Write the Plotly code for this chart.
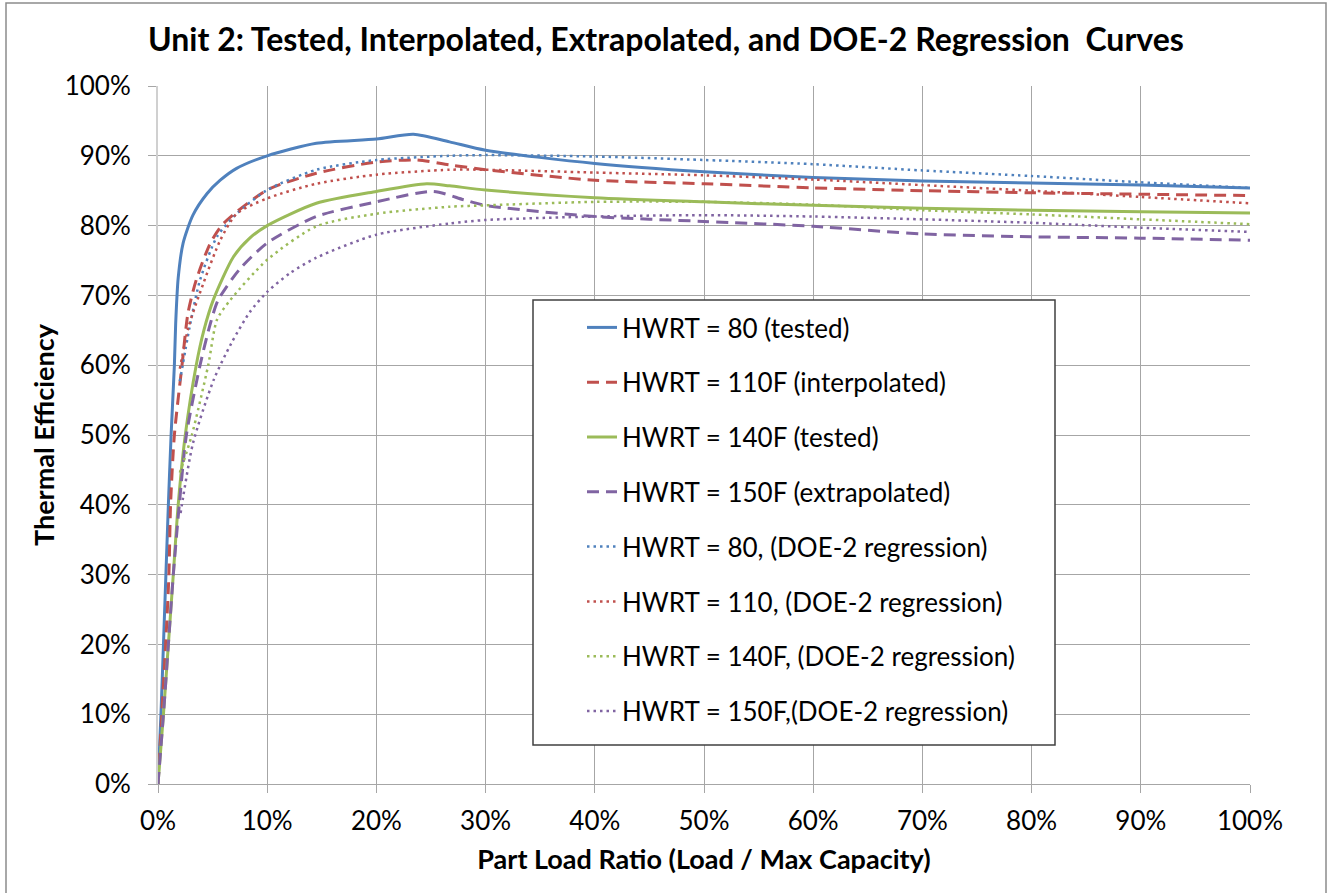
import plotly.graph_objects as go

# ---- data (Part Load Ratio %, Thermal Efficiency %) ----
plr_80_tested = [0, 0.27, 0.5, 0.95, 1.2, 1.5, 1.62, 1.85, 2.3, 3.2, 4.5, 5.7, 7.2, 10, 14.5, 20, 23.4, 26.7, 30, 40, 50, 60, 70, 80, 90, 100]
eff_80_tested = [0, 10, 20, 40, 50, 60, 66.0, 72.5, 77.5, 81.5, 84.6, 86.5, 88.2, 90, 91.8, 92.4, 93.1, 92, 90.8, 88.9, 87.7, 86.9, 86.4, 86.1, 85.8, 85.4]

plr_110_interp = [0, 0.35, 0.7, 1.0, 1.15, 1.5, 2.2, 2.75, 3.5, 4.8, 6.0, 10, 14.5, 20, 23.7, 26.7, 30, 40, 50, 60, 70, 80, 90, 100]
eff_110_interp = [0, 10, 20, 30, 40, 50, 60, 67.5, 72.2, 77.5, 80.3, 85.1, 87.5, 89.1, 89.4, 88.7, 88, 86.5, 86, 85.4, 85, 84.7, 84.5, 84.3]

plr_140_tested = [0, 0.5, 0.95, 1.4, 1.85, 2.5, 3.5, 4.2, 5.1, 6.9, 8.4, 10, 14.5, 20, 24.6, 26.7, 30, 40, 50, 60, 70, 80, 90, 100]
eff_140_tested = [0, 10, 20, 30, 40, 50, 60, 65.0, 69.5, 75.5, 78.2, 80.0, 83.2, 84.9, 86, 85.7, 85.1, 84, 83.4, 82.9, 82.5, 82.2, 82, 81.8]

plr_150_extrap = [0, 0.5, 0.95, 1.4, 1.95, 2.6, 3.85, 4.8, 5.5, 7.5, 10, 14.5, 20, 25.2, 28, 30, 40, 50, 60, 70, 80, 90, 100]
eff_150_extrap = [0, 10, 20, 30, 40, 50, 60, 66.0, 69.3, 73.8, 77.5, 81.3, 83.4, 84.9, 83.7, 82.9, 81.3, 80.6, 79.9, 78.8, 78.4, 78.2, 77.9]

plr_80_doe2 = [2.0, 2.9, 3.85, 5.4, 7.2, 10, 14.5, 20, 26.7, 30, 40, 50, 60, 70, 80, 90, 100]
eff_80_doe2 = [57.7, 65.5, 72.2, 78.4, 81.7, 85.1, 88, 89.4, 90, 90.1, 89.9, 89.4, 88.8, 87.9, 87.1, 86.2, 85.4]

plr_110_doe2 = [2.0, 2.8, 4.15, 5.7, 7.2, 10, 14.5, 20, 26.7, 30, 40, 50, 60, 70, 80, 90, 100]
eff_110_doe2 = [59.5, 65.5, 71.7, 77.9, 81.7, 83.9, 86, 87.3, 88, 88, 87.6, 87.2, 86.6, 85.8, 85, 84.1, 83.2]

plr_140_doe2 = [2.0, 3.1, 4.6, 5.4, 6.6, 10, 14.5, 20, 26.7, 30, 40, 50, 60, 70, 80, 90, 100]
eff_140_doe2 = [44.6, 50, 60, 66.5, 69.3, 75.1, 79.9, 81.7, 82.7, 82.9, 83.4, 83.4, 83.0, 82.2, 81.6, 80.9, 80.2]

plr_150_doe2 = [2.07, 2.3, 3.2, 5.1, 6.7, 8.4, 10, 12.1, 14.5, 20, 26.7, 30, 40, 50, 60, 70, 80, 90, 100]
eff_150_doe2 = [38.8, 41.1, 48.8, 57.9, 63.1, 67.6, 70.5, 73.2, 75.4, 78.7, 80.3, 80.8, 81.3, 81.5, 81.3, 80.9, 80.4, 79.7, 79.1]

series_names = [
    "HWRT = 80 (tested)",
    "HWRT = 110F (interpolated)",
    "HWRT = 140F (tested)",
    "HWRT = 150F (extrapolated)",
    "HWRT = 80, (DOE-2 regression)",
    "HWRT = 110, (DOE-2 regression)",
    "HWRT = 140F, (DOE-2 regression)",
    "HWRT = 150F,(DOE-2 regression)",
]
x_ticks = list(range(0, 101, 10))
y_ticks = list(range(0, 101, 10))

# ---- styling ----
BLUE, RED, GREEN, PURPLE = "#4F81BD", "#C0504D", "#9BBB59", "#8064A2"
FONT = "Lato, 'Open Sans', sans-serif"
GRID = "#a6a6a6"

xs = [plr_80_tested, plr_110_interp, plr_140_tested, plr_150_extrap,
      plr_80_doe2, plr_110_doe2, plr_140_doe2, plr_150_doe2]
ys = [eff_80_tested, eff_110_interp, eff_140_tested, eff_150_extrap,
      eff_80_doe2, eff_110_doe2, eff_140_doe2, eff_150_doe2]
colors = [BLUE, RED, GREEN, PURPLE, BLUE, RED, GREEN, PURPLE]
dashes = ["solid", "12px,7px", "solid", "12px,7px",
          "2.5px,4px", "2.5px,4px", "2.5px,4px", "2.5px,4px"]
widths = [3, 3, 3, 3, 2.5, 2.5, 2.5, 2.5]

fig = go.Figure()
for i in range(8):
    fig.add_trace(go.Scatter(
        x=xs[i], y=ys[i], mode="lines", name=series_names[i],
        legendgroup=f"g{i}",
        line=dict(color=colors[i], width=widths[i], dash=dashes[i],
                  shape="spline", smoothing=0.7),
    ))

# plot area pixel geometry
L, R, T, B = 158, 1250, 86, 784
W, H = R - L, B - T
def px(xp):
    return (xp - L) / W
def py(yp):
    return (B - yp) / H

shapes = [
    # outer chart border
    dict(type="rect", xref="paper", yref="paper",
         x0=px(6), x1=px(1326), y0=py(3), y1=py(896),
         line=dict(color="#8c8c8c", width=1.5), fillcolor="rgba(0,0,0,0)",
         layer="below"),
    # legend box
    dict(type="rect", xref="paper", yref="paper",
         x0=px(533), x1=px(1055), y0=py(745), y1=py(300),
         line=dict(color="#404040", width=1.5), fillcolor="white",
         layer="above"),
]

fig.update_layout(
    width=1332, height=893,
    margin=dict(l=L, r=1332 - R, t=T, b=893 - B, pad=0),
    paper_bgcolor="white", plot_bgcolor="white",
    font=dict(family=FONT, size=26, color="#000000"),
    title=dict(text="<b>Unit 2: Tested, Interpolated, Extrapolated, and DOE-2 Regression  Curves</b>",
               x=0.5, xref="container", xanchor="center",
               y=1 - 40 / 893, yref="container", yanchor="middle",
               font=dict(family=FONT, size=32, color="#000000")),
    shapes=shapes,
    showlegend=True,
    legend=dict(x=px(582), y=py(304), xanchor="left", yanchor="top",
                bgcolor="rgba(0,0,0,0)", borderwidth=0,
                font=dict(family=FONT, size=26, color="#000000"),
                tracegroupgap=18, traceorder="grouped"),
)
fig.update_xaxes(
    range=[0, 100], tickvals=x_ticks, ticktext=[f"{v}%" for v in x_ticks],
    showgrid=True, gridcolor=GRID, gridwidth=1, zeroline=False,
    showline=True, linecolor=GRID, linewidth=1,
    ticks="outside", ticklen=8, tickcolor=GRID, ticklabelstandoff=6,
    tickfont=dict(size=26),
    title=dict(text="<b>Part Load Ratio (Load / Max Capacity)</b>",
               font=dict(family=FONT, size=27), standoff=14),
)
fig.update_yaxes(
    range=[0, 100], tickvals=y_ticks, ticktext=[f"{v}%" for v in y_ticks],
    showgrid=True, gridcolor=GRID, gridwidth=1, zeroline=False,
    showline=True, linecolor="#d0d0d0", linewidth=2,
    ticks="outside", ticklen=8, tickcolor=GRID, ticklabelstandoff=12,
    tickfont=dict(size=26),
    title=dict(text="<b>Thermal Efficiency</b>",
               font=dict(family=FONT, size=27), standoff=2),
)

fig.write_html("out.html", config={"displayModeBar": False},
               post_script="document.body.style.margin='0';")
